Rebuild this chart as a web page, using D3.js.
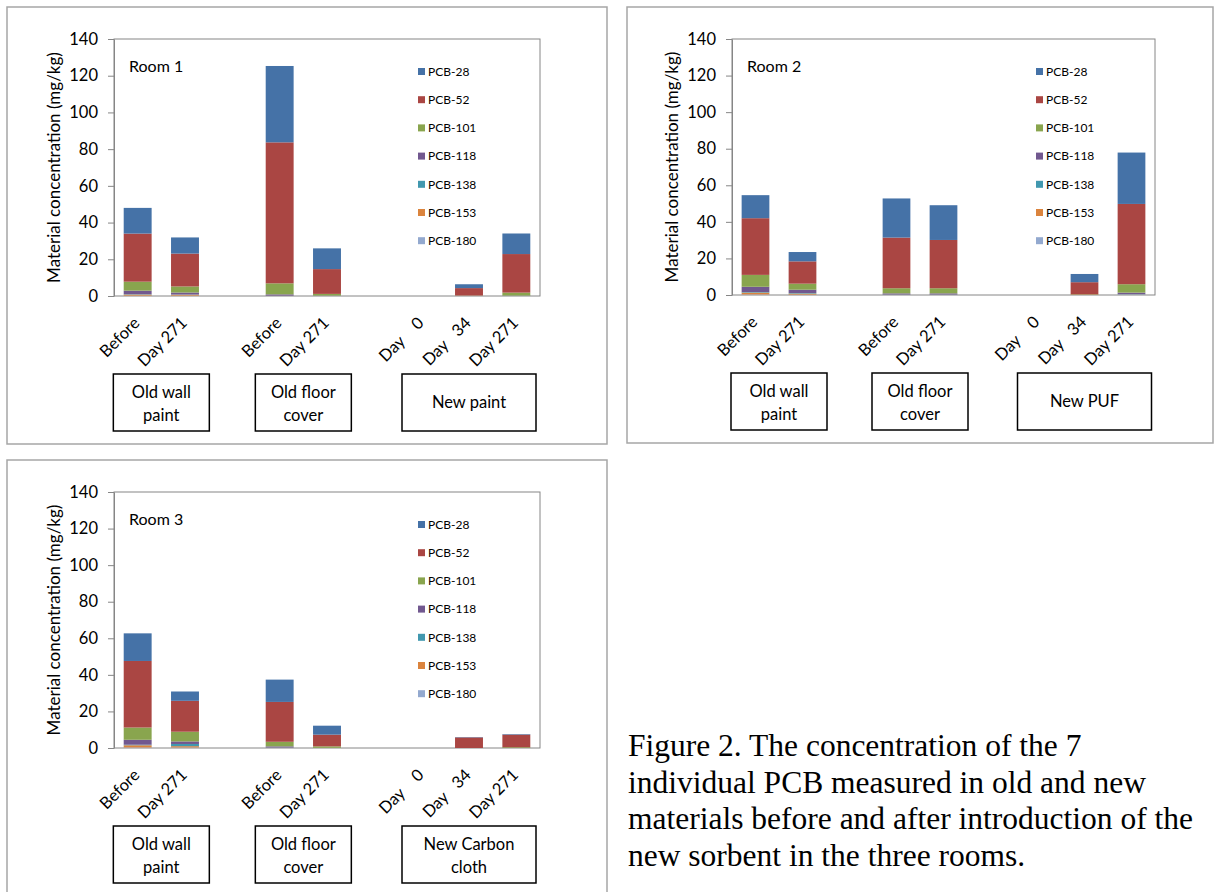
<!DOCTYPE html>
<html>
<head>
<meta charset="utf-8">
<script src="https://cdn.jsdelivr.net/npm/d3@7"></script>
<style>
  body { margin: 0; background: #fff; }
  svg text { font-family: Lato, "Open Sans", sans-serif; fill: #000; }
  .caption { font-family: "Liberation Serif", "DejaVu Serif", serif !important; }
</style>
</head>
<body>
<svg id="fig" width="1216" height="892"></svg>
<script>
// series in legend order (top of stack first)
const series = ['PCB-28', 'PCB-52', 'PCB-101', 'PCB-118', 'PCB-138', 'PCB-153', 'PCB-180'];
const seriesColors = ['#4572A7', '#AA4643', '#89A54E', '#71588F', '#4198AF', '#DB843D', '#93A9CF'];

// 9 slots, two of them are empty spacers between the groups
const categories = ['Before', 'Day 271', '', 'Before', 'Day 271', '', 'Day    0', 'Day   34', 'Day 271'];
const groupSlots = [[0, 1], [3, 4], [6, 7, 8]];
const yTicks = [0, 20, 40, 60, 80, 100, 120, 140];

// values (mg/kg), one row per series in the order of `series`
const room1 = [
    [14.0, 8.8, null, 41.6, 11.3, null, 0, 2.1, 11.2],
    [26.2, 17.9, null, 76.8, 13.5, null, 0, 4.0, 21.0],
    [4.9, 3.3, null, 6.0, 0.9, null, 0, 0.1, 1.6],
    [1.9, 1.1, null, 0.7, 0.1, null, 0, 0, 0.1],
    [0.2, 0.1, null, 0.05, 0.05, null, 0, 0, 0.05],
    [0.6, 0.5, null, 0.1, 0.05, null, 0, 0.1, 0.05],
    [0.2, 0.2, null, 0.05, 0.05, null, 0, 0.1, 0.05]
];
const room2 = [
    [12.6, 5.1, null, 21.4, 19.0, null, 0, 4.5, 28.1],
    [31.0, 12.2, null, 27.7, 26.4, null, 0, 6.6, 43.9],
    [6.5, 3.3, null, 2.8, 2.8, null, 0, 0.2, 4.6],
    [2.9, 1.8, null, 0.6, 0.6, null, 0, 0, 0.8],
    [0.3, 0.3, null, 0.1, 0.1, null, 0, 0, 0.1],
    [1.0, 0.6, null, 0.1, 0.1, null, 0, 0.2, 0.1],
    [0.3, 0.2, null, 0.1, 0.1, null, 0, 0, 0.3]
];
const room3 = [
    [15.1, 5.1, null, 12.2, 4.9, null, 0, 0.2, 0.3],
    [36.4, 16.9, null, 21.8, 6.4, null, 0, 5.8, 6.9],
    [6.7, 5.3, null, 2.5, 0.8, null, 0, 0, 0.4],
    [2.7, 1.4, null, 0.6, 0.05, null, 0, 0, 0],
    [0.3, 1.2, null, 0.1, 0, null, 0, 0, 0],
    [1.2, 0.7, null, 0.1, 0.05, null, 0, 0, 0],
    [0.3, 0.3, null, 0.1, 0, null, 0, 0, 0]
];

const room1Groups = [['Old wall', 'paint'], ['Old floor', 'cover'], ['New paint']];
const room2Groups = [['Old wall', 'paint'], ['Old floor', 'cover'], ['New PUF']];
const room3Groups = [['Old wall', 'paint'], ['Old floor', 'cover'], ['New Carbon', 'cloth']];

const captionLines = [
    'Figure 2. The concentration of the 7',
    'individual PCB measured in old and new',
    'materials before and after introduction of the',
    'new sorbent in the three rooms.'
];

const svg = d3.select('#fig');
const gray = '#868686';

function drawPanel(cfg) {
    const g = svg.append('g');

    // outer frame of the chart object
    g.append('rect')
        .attr('x', cfg.frame[0]).attr('y', cfg.frame[1])
        .attr('width', cfg.frame[2] - cfg.frame[0]).attr('height', cfg.frame[3] - cfg.frame[1])
        .attr('fill', '#fff').attr('stroke', '#a6a6a6').attr('stroke-width', 1.5);

    const x = d3.scaleBand()
        .domain(d3.range(categories.length))
        .range([cfg.left, cfg.right])
        .paddingInner(0.41)
        .paddingOuter(0.205);
    const y = d3.scaleLinear().domain([0, 140]).range([cfg.bottom, cfg.top]);

    // plot area border
    g.append('rect')
        .attr('x', cfg.left).attr('y', cfg.top)
        .attr('width', cfg.right - cfg.left).attr('height', cfg.bottom - cfg.top)
        .attr('fill', 'none').attr('stroke', gray).attr('stroke-width', 1);

    const yAxis = g.append('g')
        .attr('transform', `translate(${cfg.left},0)`)
        .call(d3.axisLeft(y).tickValues(yTicks).tickSize(6).tickSizeOuter(0).tickPadding(10));
    yAxis.select('.domain').attr('stroke', gray);
    yAxis.selectAll('.tick line').attr('stroke', gray);
    yAxis.selectAll('.tick text').style('font-size', '16.5px').style('font-family', 'Lato, sans-serif').attr('fill', '#000');

    g.append('text')
        .attr('transform', `translate(${cfg.left - 60},${(cfg.top + cfg.bottom) / 2}) rotate(-90)`)
        .attr('text-anchor', 'middle')
        .attr('dy', '0.35em')
        .style('font-size', '17px')
        .text('Material concentration (mg/kg)');

    // stacked bars, bottom series is the last one in the legend
    const rows = categories.map((c, i) => {
        const row = { idx: i };
        series.forEach((s, k) => { row[s] = cfg.values[k][i] || 0; });
        return row;
    });
    const keys = series.slice().reverse();
    const stacked = d3.stack().keys(keys)(rows);

    g.selectAll('.layer')
        .data(stacked)
        .enter().append('g')
        .attr('class', 'layer')
        .attr('fill', d => seriesColors[series.indexOf(d.key)])
        .selectAll('rect')
        .data(d => d.filter(p => p[1] - p[0] > 0))
        .enter().append('rect')
        .attr('x', d => x(d.data.idx))
        .attr('width', x.bandwidth())
        .attr('y', d => y(d[1]))
        .attr('height', d => y(d[0]) - y(d[1]));

    // x category labels, rotated
    g.selectAll('.xlab')
        .data(categories.map((c, i) => ({ c, i })).filter(d => d.c !== ''))
        .enter().append('text')
        .attr('class', 'xlab')
        .attr('transform', d => `translate(${x(d.i) + x.bandwidth() / 2 + 3},${cfg.bottom + 28}) rotate(-45)`)
        .attr('text-anchor', 'end')
        .style('font-size', '16.5px')
        .style('white-space', 'pre')
        .text(d => d.c);

    // room label
    g.append('text')
        .attr('x', cfg.left + 15).attr('y', cfg.top + 27)
        .attr('dy', '0.35em')
        .style('font-size', '16px')
        .text(cfg.room);

    // legend
    const legend = g.selectAll('.leg')
        .data(series)
        .enter().append('g')
        .attr('class', 'leg')
        .attr('transform', (d, i) => `translate(${cfg.left + 304},${cfg.top + 32.5 + i * 28.2})`);
    legend.append('rect')
        .attr('x', 0).attr('y', -3.5).attr('width', 7).attr('height', 7)
        .attr('fill', (d, i) => seriesColors[i]);
    legend.append('text')
        .attr('x', 10).attr('dy', '0.35em')
        .style('font-size', '12px')
        .text(d => d);

    // group boxes under the axis labels
    groupSlots.forEach((slots, gi) => {
        const cx = (x(slots[0]) + x(slots[slots.length - 1]) + x.bandwidth()) / 2;
        const w = slots.length === 2 ? 96 : 134;
        const top = cfg.bottom + 78;
        const h = 57;
        g.append('rect')
            .attr('x', cx - w / 2).attr('y', top)
            .attr('width', w).attr('height', h)
            .attr('fill', '#fff').attr('stroke', '#000').attr('stroke-width', 1.5);
        const lines = cfg.groups[gi];
        const lineY = lines.length === 1 ? [top + h / 2] : [top + 18, top + 41];
        lines.forEach((t, li) => {
            g.append('text')
                .attr('x', cx).attr('y', lineY[li])
                .attr('dy', '0.35em')
                .attr('text-anchor', 'middle')
                .style('font-size', '16.5px')
                .text(t);
        });
    });
}

drawPanel({ frame: [7, 7, 607, 444], left: 114, right: 540, top: 39, bottom: 296,
    values: room1, groups: room1Groups, room: 'Room 1' });
drawPanel({ frame: [627, 7, 1213, 443], left: 732, right: 1155, top: 39, bottom: 295,
    values: room2, groups: room2Groups, room: 'Room 2' });
drawPanel({ frame: [7, 460, 607, 905], left: 114, right: 540, top: 492, bottom: 748,
    values: room3, groups: room3Groups, room: 'Room 3' });

svg.selectAll('.caption')
    .data(captionLines)
    .enter().append('text')
    .attr('class', 'caption')
    .attr('x', 628)
    .attr('y', (d, i) => 756 + i * 36.5)
    .style('font-size', '31.5px')
    .text(d => d);
</script>
</body>
</html>
